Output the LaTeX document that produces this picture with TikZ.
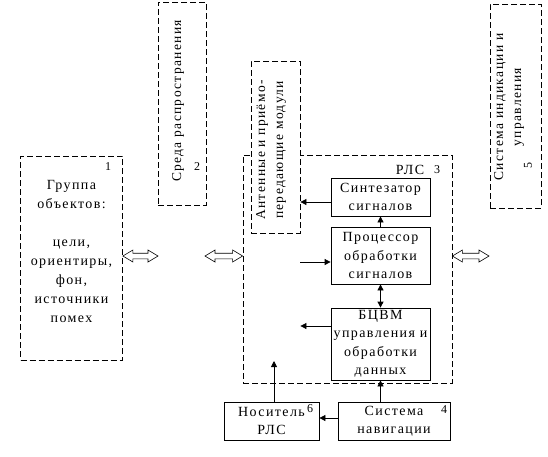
\documentclass[tikz,border=0pt]{standalone}
\usepackage{fontspec}
\setmainfont{Liberation Serif}[LetterSpace=10]
\usetikzlibrary{arrows.meta,calc}
\begin{document}
\begin{tikzpicture}[x=1pt,y=-1pt,
    every node/.style={inner sep=0pt, align=center, font=\fontsize{14}{18.5}\selectfont},
    dbox/.style={draw, line width=0.8pt, dash pattern=on 6pt off 3pt},
    sbox/.style={draw, line width=0.8pt},
    num/.style={font=\fontsize{12}{13}\selectfont},
    arr/.style={line width=0.8pt, -{Triangle[length=6pt,width=6pt]}},
    dblarr/.style={line width=0.6pt, to path={let \p1=(\tikztostart), \p2=(\tikztotarget) in
      (\x1,\y1) -- (\x1+10pt,\y1+6pt) -- (\x1+10pt,\y1+2.8pt) -- (\x2-10pt,\y1+2.8pt)
      -- (\x2-10pt,\y1+6pt) -- (\x2,\y1) -- (\x2-10pt,\y1-6pt) -- (\x2-10pt,\y1-2.8pt)
      -- (\x1+10pt,\y1-2.8pt) -- (\x1+10pt,\y1-6pt) -- cycle}}]
  \useasboundingbox (0,0) rectangle (548,456);
  \draw
    (71.5,258) node[dbox, minimum width=102pt, minimum height=204pt] (obj){}
    (182,103.5) node[dbox, minimum width=48pt, minimum height=203pt] (sreda){}
    (347.5,269) node[dbox, minimum width=209pt, minimum height=228pt] (rls){}
    (275.5,147) node[dbox, fill=white, minimum width=49pt, minimum height=172pt] (ant){}
    (515.5,106) node[dbox, minimum width=51pt, minimum height=204pt] (ind){}
    (380.5,197) node[sbox, minimum width=99pt, minimum height=38pt] (synth){Синтезатор\\сигналов}
    (380.5,255.5) node[sbox, minimum width=99pt, minimum height=57pt] (proc){Процессор\\обработки\\сигналов}
    (380.5,344) node[sbox, minimum width=99pt, minimum height=72pt] (bcvm){БЦВМ\\управления и\\обработки\\данных}
    (271.5,421) node[sbox, minimum width=95pt, minimum height=38pt] (nos){Носитель\\РЛС}
    (394,421) node[sbox, minimum width=112pt, minimum height=38pt] (nav){Система\\навигации};
  \draw
    (71.5,251) node[font=\fontsize{14}{19}\selectfont] (objtxt){Группа\\объектов:\\[19pt]цели,\\ориентиры,\\фон,\\источники\\помех}
    (178,101) node[rotate=90, font=\fontsize{13.5}{18}\selectfont] (srtxt){Среда распространения}
    (271,150) node[rotate=90, font=\fontsize{13.5}{18}\selectfont] (anttxt){Антенные и приёмо-\\передающие модули}
    (509,107) node[rotate=90, font=\fontsize{13.5}{18}\selectfont] (indtxt){Система индикации и\\управления}
    (410,170) node (rlstxt){РЛС}
    (108,167) node[num] (n1){1}
    (197,167) node[num] (n2){2}
    (437,170) node[num] (n3){3}
    (444,410) node[num] (n4){4}
    (528,165) node[num, rotate=90] (n5){5}
    (310,409) node[num] (n6){6};
  \coordinate (m1) at (158,256);
  \coordinate (m2) at (205,256);
  \coordinate (m3) at (489,256);
  \coordinate (up) at (274,361);
  \begin{scope}[dblarr]
    \draw (obj.east |- m1) to (m1);
    \draw (m2) to (rls.west |- m2);
    \draw (rls.east |- m3) to (m3);
  \end{scope}
  \begin{scope}[arr]
    \draw ([yshift=-5pt]synth.west) -- ([yshift=-5pt]synth.west -| ant.east);
    \draw (proc.north) -- (synth.south);
    \draw ([yshift=-6.5pt]proc.west -| ant.east) -- ([yshift=-6.5pt]proc.west);
    \draw[{Triangle[length=6pt,width=6pt]}-{Triangle[length=6pt,width=6pt]}] (proc.south) -- (bcvm.north);
    \draw ([yshift=18pt]bcvm.west) -- ([yshift=18pt]bcvm.west -| ant.east);
    \draw (nos.north -| up) -- (up);
    \draw ([yshift=3pt]nav.west) -- ([yshift=3pt]nos.east);
    \draw (nav.north -| bcvm.south) -- (bcvm.south);
  \end{scope}
\end{tikzpicture}
\end{document}
